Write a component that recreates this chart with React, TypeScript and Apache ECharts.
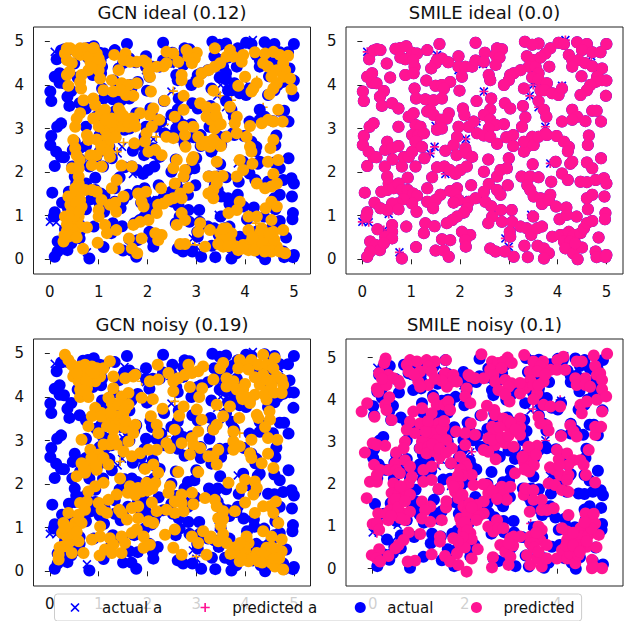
import React, { useEffect, useRef } from "react";
import * as echarts from "echarts";

const panelTitles = ["GCN ideal (0.12)", "SMILE ideal (0.0)", "GCN noisy (0.19)", "SMILE noisy (0.1)"];
const legendNames = ["actual a", "predicted a", "actual", "predicted"];
const ticksFull = [0, 1, 2, 3, 4, 5];
const ticksSparse = [0, 2, 4];

const actualAnchors = [[0.1,4.76],[1.53,4.69],[1.97,4.34],[2.47,4.48],[2.49,3.85],[3.44,4.56],[3.5,4.0],[3.43,3.75],[3.61,3.49],[4.09,3.98],[4.16,5.03],[4.69,4.66],[4.3,3.44],[3.75,3.04],[2.34,3.16],[1.5,3.06],[2.12,2.76],[1.48,2.58],[1.39,2.43],[3.85,2.2],[2.98,2.09],[0.93,1.87],[1.7,1.96],[0.83,1.38],[2.06,1.36],[2.64,1.22],[3.46,1.02],[4.19,1.02],[0.54,1.04],[0,0.86],[0.13,0.85],[0.44,0.67],[0.76,0.16],[2.92,0.18],[3.0,0.29],[2.93,0.48],[4.41,0],[4.76,0.18],[4.19,0.48]];

const gcnIdealAnchors = [[4.24,4.11],[4.37,3.49],[3.49,3.75],[3.72,3.65],[3.62,4.04],[2.53,3.86],[1.51,2.68],[1.38,2.47],[2.18,2.81],[0.93,1.87],[2.97,0.33],[4.22,0.83],[1.96,4.34],[3.85,2.9],[2.35,3.1]];
const gcnNoisyAnchors = [[1.88,4.36],[2.56,3.9],[4.24,3.59],[3.89,3.17],[2.39,3.1],[2.22,2.78],[1.44,2.52],[3.0,0.34]];
const smileNoisyAnchors = [[2.48,3.86],[3.48,3.78],[4.07,4.0],[4.29,3.44],[3.75,3.03],[2.15,2.77],[1.43,2.5],[0.96,1.88],[0.85,1.37],[3.43,1.07],[0.09,0.84],[0.75,0.19],[3.0,0.28],[4.42,-0.02],[4.76,0.21]];

const actualPoints = [[0.14,4.59],[0.23,4.79],[0.3,4.82],[0.37,4.8],[0.5,4.49],[0.68,4.83],[0.78,4.85],[0.9,4.89],[0.78,4.63],[0.88,4.59],[1.02,4.74],[1.12,4.72],[1.04,4.57],[1.07,4.42],[0.88,4.23],[1.05,4.27],[1.33,4.8],[1.58,4.94],[1.53,4.57],[1.63,4.61],[1.76,4.52],[1.5,4.5],[1.41,4.38],[1.97,4.66],[1.97,4.42],[2.11,4.42],[2.25,4.42],[2.32,4.56],[2.32,4.97],[2.51,4.74],[2.49,4.53],[2.76,4.84],[2.86,4.82],[2.73,4.69],[2.81,4.63],[2.73,4.46],[2.59,4.23],[2.62,4.11],[3.33,4.99],[3.61,4.95],[3.48,4.92],[3.37,4.66],[3.49,4.57],[3.41,4.42],[3.55,4.42],[3.24,4.34],[3.1,4.27],[3.03,4.23],[3.0,4.11],[2.9,4.0],[3.61,4.27],[3.48,4.17],[3.61,4.13],[3.85,4.84],[3.75,4.72],[3.65,4.63],[3.83,4.42],[4.02,4.97],[4.13,4.94],[4.23,4.69],[4.3,4.57],[4.4,4.98],[4.6,4.94],[4.5,4.8],[4.71,4.75],[4.88,4.75],[5.0,4.94],[4.43,4.57],[4.57,4.5],[4.3,4.42],[4.71,4.43],[4.49,4.2],[4.91,4.38],[4.81,4.19],[4.91,4.11],[5.0,4.1],[4.78,4.07],[4.67,4.0],[4.6,3.88],[4.47,3.77],[4.99,3.75],
[0.01,3.85],[0.03,3.63],[0.1,4.19],[0.2,4.27],[0.2,4.05],[0.29,4.04],[0.57,4.17],[0.44,3.86],[0.36,3.73],[0.4,3.52],[0.61,3.58],[0.74,3.46],[1.07,3.92],[1.1,3.69],[1.31,4.1],[1.29,3.67],[1.5,3.98],[1.63,4.0],[1.8,4.07],[1.67,3.92],[1.46,3.65],[1.63,3.69],[1.99,3.87],[2.04,4.19],[2.34,3.63],[2.64,3.69],[2.92,3.58],[3.03,3.46],[3.29,3.52],[2.62,3.44],[2.06,3.46],[2.09,3.31],[2.18,3.04],[2.28,3.16],[2.49,3.31],[2.62,3.2],[2.73,3.08],[2.9,3.1],[2.59,3.0],[3.34,3.26],[3.27,3.04],[3.31,3.92],
[3.61,3.63],[3.72,3.43],[3.77,3.27],[3.75,2.89],[3.65,3.88],[3.78,4.04],[3.73,3.88],[3.89,3.81],[4.02,3.77],[4.09,3.92],[4.09,3.16],[4.3,3.43],[4.4,3.27],[4.3,3.2],[4.57,3.17],[4.71,3.41],[4.8,3.41],[4.89,3.16],[4.64,2.84],[4.62,2.62],
[0.03,2.83],[0.01,2.62],[0.15,3.04],[0.23,3.12],[0.13,2.47],[0.23,2.35],[0.29,2.34],[0.1,2.14],[0.74,3.04],[0.51,2.7],[0.47,2.51],[0.61,2.55],[0.74,2.6],[0.62,2.29],[0.81,2.13],[0.85,2.35],[0.95,2.35],[1.02,2.47],[1.09,2.13],[0.46,2.13],[0.95,3.27],[1.05,3.35],[1.09,3.08],[1.19,3.04],[1.02,2.85],[1.15,2.85],[1.26,2.89],[1.09,2.7],[1.22,2.58],[1.27,2.32],[1.33,3.39],[1.39,3.43],[1.46,3.31],[1.61,3.2],[1.77,3.35],[1.73,3.23],[1.53,2.97],[1.63,3.0],
[1.7,2.49],[1.97,3.04],[1.94,2.81],[1.87,2.62],[1.93,2.39],[2.11,2.55],[2.14,2.43],[2.25,2.35],[1.53,2.11],[1.68,2.13],[1.79,2.05],[1.91,1.96],[2.01,2.05],[2.14,2.13],[1.43,1.88],[2.35,2.89],[2.49,2.84],[2.62,2.81],[2.76,2.65],[2.95,2.8],[3.09,2.85],[3.09,2.6],[2.58,2.29],[2.49,2.01],[2.76,1.9],[2.83,2.05],[3.0,2.32],[2.96,2.09],[2.98,1.7],[2.59,1.73],[2.49,1.55],[2.76,1.59],[2.83,1.48],[2.23,1.7],
[3.31,2.47],[3.37,2.58],[3.48,2.81],[3.31,2.7],[3.51,2.62],[3.61,2.81],[3.78,2.85],[3.98,2.83],[4.13,2.7],[4.23,2.58],[4.21,2.48],[3.49,2.18],[3.96,2.24],[4.09,1.97],[4.21,1.82],[4.26,2.19],[4.3,2.24],[3.87,1.78],[3.26,1.9],[3.44,1.9],[3.61,1.88],[4.6,2.22],[4.71,2.09],[4.89,2.32],[4.47,1.78],[4.6,1.77],[4.78,1.82],[4.95,1.86],[5.0,1.74],[3.38,1.7],[3.44,1.59],[3.51,1.44],[3.65,1.4],[3.68,1.27],[3.85,1.48],[3.82,1.36],[4.6,1.4],[4.71,1.48],[4.96,1.44],[4.62,1.15],[4.98,1.06],[4.97,0.92],[3.97,1.21],[4.18,1.19],[4.39,0.98],[4.04,0.92],[4.19,1.02],
[0.05,1.53],[0.25,1.3],[0.39,1.55],[0.51,1.9],[0.54,1.74],[0.51,1.59],[0.64,1.63],[0.74,1.74],[0.81,1.59],[0.93,1.59],[1.04,1.51],[1.12,1.46],[0.93,1.87],[1.33,1.63],[1.6,1.48],[1.33,1.32],[1.5,1.36],[1.45,1.17],[0.85,1.38],[1.02,1.28],[1.11,1.09],[0.72,1.28],[0.61,1.28],[0.51,1.13],[0.37,1.17],[0.74,1.15],[0.1,1.08],[0.08,0.98],[1.8,1.57],[1.94,1.63],[1.91,1.48],[1.97,1.36],[1.87,1.3],[2.18,1.32],[2.32,1.4],[2.14,1.17],[2.08,1.07],[1.94,0.98],[1.84,0.9],[1.73,0.83],[2.52,1.32],[2.64,1.22],[2.84,1.13],[3.06,1.13],[2.66,0.98],[2.58,0.83],[2.86,0.86],[3.07,0.86],[3.5,0.98],[1.29,0.83],[1.48,0.76],[0.9,0.75],[0.31,0.69],[0.61,0.79],[1.26,0.6],
[3.02,0.63],[3.24,0.75],[3.37,0.71],[3.46,0.56],[3.58,0.71],[3.68,0.75],[3.03,0.52],[3.89,0.52],[4.06,0.56],[4.23,0.63],[4.33,0.56],[4.47,0.6],[4.54,0.71],[4.6,0.83],[4.71,0.88],[4.84,0.5],[4.13,0.41],[4.26,0.41],[4.16,0.25],[4.32,0.14],[4.5,0.27],[4.36,0.37],[2.21,0.56],[2.04,0.63],[2.11,0.44],[2.12,0.29],[1.63,0.46],[1.8,0.44],[1.5,0.2],[1.67,0.2],[1.77,0.06],[1.1,0.28],[0.61,0.63],[0.47,0.52],[0.61,0.48],[0.16,0.41],[0.27,0.33],[0.36,0.21],[0.44,0.37],[0.16,0.18],[0.1,0.06],[0.81,0.02],[2.62,0.25],[2.73,0.18],[3.1,0.06],[2.92,0.18],[3.32,0.31],[3.39,0.05],[3.59,0.31],[3.72,0.25],[3.82,0.14],[3.72,0.02],[4.41,0],[4.78,0.18],[4.8,0.05],[4.98,0.05],[5.0,0.1]];

const gcnIdealPoints = [[0.35,4.84],[0.42,4.84],[0.31,4.72],[0.35,4.57],[0.45,4.5],[0.4,4.3],[0.35,4.23],[0.38,3.98],[0.62,4.84],[0.72,4.84],[0.83,4.8],[0.62,4.69],[0.72,4.69],[0.86,4.65],[0.96,4.72],[0.96,4.57],[1.03,4.5],[0.83,4.53],[1.0,4.34],[0.79,4.34],[0.65,4.23],[0.62,4.07],[0.64,3.92],[1.03,4.15],[1.27,4.11],[1.1,3.88],[1.32,4.69],[1.55,4.72],[1.51,4.57],[1.64,4.53],[1.78,4.53],[1.92,4.56],[1.98,4.51],[1.41,4.34],[1.47,4.04],[1.61,4.0],[1.78,4.04],[1.44,3.88],[1.3,3.85],[1.56,3.77],[1.71,3.75],[2.05,4.19],[2.02,4.3],[2.07,3.85],[2.19,4.42],[2.33,4.43],[2.39,4.5],[2.39,4.76],[2.53,4.72],[2.63,4.53],[2.35,3.64],[2.8,4.8],[3.01,4.74],[2.84,4.65],[2.97,4.61],[2.91,4.5],[2.7,4.23],[2.7,4.11],[2.74,3.75],[3.11,4.27],[3.04,4.07],[3.25,4.34],[3.38,4.42],[3.49,4.5],[3.38,4.84],[3.62,4.65],[3.69,4.8],[3.76,4.65],[3.96,4.69],[3.93,4.53],[3.35,3.87],[4.2,4.75],[4.41,4.72],[4.58,4.76],[4.71,4.69],[4.88,4.67],[4.37,4.5],[4.47,4.42],[4.78,4.5],[4.65,4.34],[4.82,4.34],[4.54,4.19],[4.78,4.19],[4.92,4.15],[4.65,4.04],[4.58,3.92],[4.5,3.79],[4.95,3.9],[4.0,4.19],[3.86,3.98],[4.17,3.92],[4.24,4.04],[4.13,3.85],
[0.69,3.65],[0.89,3.69],[0.93,3.54],[0.62,3.35],[0.55,3.23],[0.52,3.04],[0.48,2.74],[0.52,2.55],[0.55,2.39],[0.61,2.28],[0.45,2.09],[0.59,2.09],[0.89,3.23],[1.03,3.31],[1.13,3.43],[1.41,3.46],[1.44,3.39],[1.27,3.23],[1.48,3.2],[1.68,3.23],[1.85,3.35],[1.71,3.16],[1.61,3.04],[1.13,2.97],[1.34,2.97],[1.17,2.81],[0.76,2.85],[0.79,2.74],[0.96,2.75],[1.2,2.62],[1.13,2.51],[0.96,2.39],[0.83,2.39],[0.86,2.16],[1.06,2.13],[1.23,2.35],[1.47,2.15],[1.68,2.13],[1.73,2.66],[1.95,2.7],[1.98,2.89],[2.09,3.04],[2.12,3.46],[2.05,3.31],[2.24,3.2],[2.16,2.51],[2.02,2.47],[2.29,2.39],[2.39,2.81],[2.53,2.78],[2.56,3.27],[2.74,3.43],[2.74,3.04],[2.94,3.04],[2.77,2.85],[2.78,2.58],[2.94,2.35],[2.91,2.28],[2.6,2.28],[2.53,2.09],[2.77,2.05],[2.74,1.9],[2.56,1.74],[2.84,1.64],[2.67,1.51],[2.7,1.4],
[3.08,3.58],[3.21,3.49],[3.38,3.46],[3.21,3.27],[3.42,3.23],[3.38,3.0],[3.04,2.81],[3.11,2.62],[3.28,2.58],[3.42,2.66],[3.62,2.81],[3.83,2.89],[3.69,3.5],[3.83,3.27],[3.79,3.12],[4.1,3.06],[4.03,2.81],[4.1,2.58],[4.13,2.47],[3.42,2.24],[3.89,2.28],[4.15,2.19],[3.96,2.05],[3.83,1.9],[4.34,3.12],[4.47,3.2],[4.58,3.16],[4.77,3.16],[4.68,3.43],[4.58,2.74],[4.52,2.55],[4.47,2.24],[4.68,2.28],[4.58,1.96],[4.65,1.74],[4.24,1.74],[4.41,1.63],[4.54,1.67],[3.25,1.9],[3.38,1.9],[3.54,1.91],[3.42,1.74],[3.35,1.59],[3.25,1.51],[3.35,1.4],[3.89,1.32],[3.83,1.13],[3.66,1.06],[4.07,0.98],[4.24,0.98],[4.42,1.17],[4.54,1.32],[4.65,1.21],[4.54,0.9],
[0.59,1.9],[0.59,1.74],[0.52,1.63],[0.72,1.59],[0.86,1.59],[0.96,1.55],[0.38,1.44],[0.52,1.48],[0.62,1.36],[0.42,1.25],[0.65,1.21],[0.45,1.09],[0.31,0.98],[0.59,0.98],[0.48,0.83],[0.62,0.75],[0.76,0.73],[0.52,0.6],[0.38,0.52],[0.28,0.41],[0.68,0.24],[1.0,1.13],[1.0,0.98],[1.06,1.36],[1.27,1.63],[1.37,1.82],[1.51,1.44],[1.34,1.3],[1.23,1.25],[1.36,1.09],[1.13,0.79],[1.17,0.6],[1.36,0.67],[0.98,0.38],[1.41,0.25],[1.62,0.48],[1.68,0.25],[1.79,0.14],[1.88,0.48],[1.81,1.51],[1.97,1.55],[1.88,1.32],[1.92,1.21],[2.28,1.63],[2.22,1.25],[2.33,1.28],[2.43,1.36],[2.53,1.4],[2.19,1.06],[1.71,0.79],[1.85,0.86],[2.02,0.9],[2.16,0.6],[2.29,0.56],[2.22,0.44],[2.7,1.06],[2.77,0.9],[2.6,0.79],[2.67,0.35],[2.77,0.35],[3.08,0.83],[3.04,0.63],[3.28,0.67],[3.18,0.29],[3.49,0.6],[3.62,0.71],[3.55,0.29],[3.69,0.44],[3.72,0.6],[3.52,0.44],[4.07,0.67],[4.34,0.71],[4.78,0.67],[4.58,0.63],[4.44,0.52],[4.27,0.44],[4.1,0.37],[3.96,0.33],[3.86,0.21],[4.07,0.21],[4.24,0.29],[4.41,0.29],[4.65,0.29],[4.51,0.41],[4.54,0.18],[4.71,0.18],[4.82,0.14],
[3.6,0.5],[3.45,0.35],[3.8,0.3],[3.95,0.25],[4.2,0.2],[4.35,0.4],[4.4,0.18],[4.6,0.45],[4.3,0.6],[4.5,0.6],[4.15,0.5],[3.55,0.7],[3.65,0.3],[0.7,4.75],[0.8,4.65],[0.9,4.85],[0.95,4.45],[0.85,4.4],[1.0,4.6],[0.55,4.75],[0.45,0.7],[0.55,0.5],[0.35,0.65],[0.3,0.55],[0.4,0.9],[0.5,1.0],[0.45,1.4],[0.55,1.3],[0.6,1.1],[0.35,0.8],[1.3,3.1],[1.5,3.05],[1.6,3.15],[1.75,3.05],[1.25,3.15],[1.0,3.05],[1.15,3.2],[1.5,3.3],[1.35,2.8],[1.05,2.6],[1.2,2.45],[3.2,2.7],[3.35,2.75],[3.5,2.6],[3.3,3.2],[3.4,3.3],[3.5,3.1]];

const gcnNoisyPoints = [[0.31,4.97],[0.38,4.85],[0.45,4.74],[0.52,4.59],[0.48,4.47],[0.62,4.7],[0.72,4.74],[0.86,4.7],[0.96,4.66],[1.1,4.66],[1.23,4.82],[0.62,4.51],[0.76,4.55],[0.93,4.51],[1.03,4.47],[0.59,4.36],[0.79,4.36],[0.93,4.36],[0.62,4.17],[0.76,4.2],[0.62,4.0],[0.79,4.0],[1.3,4.47],[1.3,4.2],[1.54,4.43],[1.71,4.47],[1.75,4.51],[2.05,4.36],[2.22,4.4],[2.21,4.74],[2.43,4.55],[2.53,4.36],[2.53,4.13],[2.63,4.43],[2.77,4.51],[2.84,4.74],[2.91,4.55],[3.04,4.59],[3.14,4.7],[2.87,4.23],[3.12,4.2],[3.06,4.0],[3.35,4.4],[3.55,4.78],[3.49,4.66],[3.62,4.43],[3.62,4.24],[3.89,4.85],[4.0,4.74],[4.13,4.85],[3.86,4.66],[4.07,4.63],[4.37,4.97],[4.27,4.74],[4.44,4.74],[4.61,4.89],[4.58,4.66],[4.37,4.51],[4.65,4.47],[4.78,4.28],[4.3,4.28],[4.54,4.28],[4.75,4.09],[4.47,4.13],[4.44,3.94],[3.76,4.36],[3.83,4.17],[3.96,4.17],[3.93,4.01],[4.07,3.98],[4.2,4.05],[4.1,3.86],[4.24,3.59],[4.27,3.52],[4.5,3.67],[4.51,3.48],[4.41,3.31],
[3.42,3.82],[3.69,3.78],[3.55,3.56],[3.42,3.36],[3.35,3.25],[3.88,3.52],[3.76,3.21],[3.76,2.98],[3.76,2.79],[3.89,2.87],[4.13,3.02],[4.47,3.06],[4.66,3.02],[4.47,2.7],[4.58,2.37],[4.1,2.71],[4.13,2.6],[4.34,2.48],[1.2,3.98],[1.27,3.86],[1.47,4.01],[1.61,4.09],[1.41,3.82],[1.61,3.82],[1.88,3.98],[2.11,3.95],[1.54,3.71],[0.93,3.75],[0.86,3.56],[1.06,3.63],[1.2,3.48],[1.37,3.56],[1.47,3.48],[0.79,3.33],[1.0,3.17],[1.17,3.33],[1.34,3.33],[1.54,3.29],[1.75,3.36],[1.71,3.17],[1.61,2.98],[2.07,3.56],[2.19,3.36],[2.22,3.17],[2.31,3.73],[2.56,3.25],[2.65,3.57],[2.74,3.78],[3.01,3.71],[3.11,3.48],[3.04,3.21],[2.91,3.06],[2.7,2.94],[2.39,2.94],[2.46,2.83],[2.94,2.91],[3.08,2.83],[2.87,2.68],[3.25,2.64],[3.45,2.79],[3.35,2.64],[3.42,2.45],
[0.65,3.02],[1.1,2.91],[1.23,2.91],[0.83,2.79],[1.0,2.68],[1.37,2.91],[1.51,2.75],[1.68,2.64],[1.85,2.71],[2.02,2.79],[2.19,2.79],[0.65,2.48],[0.93,2.56],[1.1,2.6],[0.79,2.41],[0.96,2.33],[1.2,2.45],[0.55,2.18],[0.72,2.26],[1.44,2.13],[2.12,2.45],[1.95,2.35],[2.22,2.26],[2.63,2.28],[3.04,2.28],[0.79,1.83],[0.93,1.95],[1.1,2.03],[1.64,1.95],[1.81,1.91],[1.98,2.03],[2.16,2.03],[1.88,1.83],[2.46,1.95],[2.43,1.8],[2.91,1.8],[2.7,1.76],[3.66,2.03],[4.0,2.1],[4.2,2.06],[3.93,1.91],[4.24,1.91],[4.17,1.76],[3.38,1.64],[3.18,1.68],[4.0,1.58],[0.62,1.57],[0.76,1.6],[1.37,1.76],[1.2,1.64],[1.0,1.57],[1.06,1.41],[1.42,1.41],[1.68,1.45],[1.81,1.49],[2.09,1.58],[2.56,1.6],[2.7,1.57],[2.94,1.54],[2.74,1.38],[2.56,1.34],[3.42,1.49],[3.55,1.38],[3.45,1.22],[3.79,1.38],[4.2,1.34],[4.37,1.49],[4.51,1.49],[4.63,1.6],[4.58,1.34],[4.68,1.11],
[0.38,1.34],[0.59,1.3],[0.72,1.41],[0.28,1.11],[0.52,1.11],[0.65,1.11],[1.17,1.34],[0.25,0.88],[0.38,0.92],[0.59,0.69],[0.42,0.69],[0.28,0.57],[0.45,0.42],[0.69,0.42],[0.18,0.38],[0.18,0.27],[1.03,1.03],[0.86,0.73],[1.03,0.8],[1.23,0.76],[1.47,1.34],[1.58,1.19],[1.81,1.22],[2.02,1.15],[2.19,1.38],[2.39,1.41],[2.12,1.11],[1.78,0.96],[1.68,0.88],[1.92,0.8],[1.47,0.8],[1.54,0.65],[2.05,0.61],[1.92,0.54],[1.3,0.61],[1.13,0.5],[1.27,0.42],[1.47,0.42],[1.02,0.36],[2.36,0.84],[2.56,0.96],[2.53,0.54],[2.7,0.38],[2.91,0.8],[3.14,0.92],[3.04,0.65],[3.21,0.38],[3.28,0.76],[3.45,0.69],[3.62,0.65],[3.76,0.54],[3.86,0.42],[4.03,0.8],[4.07,0.65],[3.89,0.23],[4.07,0.23],[4.0,0.46],[4.37,0.92],[4.54,0.8],[4.75,0.73],[4.24,0.42],[4.44,0.54],[4.27,0.23],[4.44,0.34],[4.65,0.5],[4.54,0.19],[4.75,0.46],[4.61,0.11],[4.78,0.04],
[3.7,0.4],[3.95,0.3],[4.15,0.3],[4.35,0.2],[4.5,0.4],[4.6,0.3],[4.4,0.45],[4.7,0.3],[4.55,0.55],[0.35,0.8],[0.3,1.0],[0.45,1.0],[0.5,0.85],[0.35,0.6],[0.55,0.9],[0.2,0.55],[0.7,4.55],[0.85,4.6],[0.75,4.35],[0.55,4.55],[0.7,4.15],[0.9,4.55],[1.05,3.55],[1.3,3.25],[1.25,3.65],[1.5,3.6],[1.55,3.45],[1.3,3.05],[0.95,2.45],[0.85,2.6],[0.7,2.35],[1.6,1.8],[1.75,1.75],[2.0,1.85],[2.1,1.9],[3.55,1.2],[3.5,1.05],[3.3,0.8],[3.55,0.85],[4.0,0.55],[3.9,0.65],[4.4,4.05],[4.2,4.45],[4.6,4.1],[4.45,4.4],[4.75,4.4],[4.0,4.3],[3.95,3.95]];

const smileNoisyPoints = [[2.36,5.08],[5.09,5.09],[4.8,5.05],[3.29,5.06],[2.93,5.0],[0.28,4.98],[1.59,4.94],[0.25,4.87],[0.81,4.94],[0.96,4.91],[1.17,4.94],[1.35,4.91],[2.59,4.91],[2.72,4.87],[2.84,4.91],[3.02,4.87],[3.49,4.91],[3.7,4.91],[4.14,5.02],[4.01,4.94],[4.43,4.91],[4.54,4.91],[4.83,4.8],[0.14,4.63],[0.74,4.83],[0.78,4.67],[1.03,4.67],[1.21,4.79],[1.28,4.67],[2.55,4.71],[2.62,4.59],[2.8,4.75],[3.64,4.79],[3.41,4.67],[3.57,4.67],[3.86,4.71],[4.0,4.71],[4.18,4.71],[4.87,4.59],[0.34,4.59],[0.45,4.51],[0.56,4.45],[0.59,4.38],[0.99,4.43],[1.21,4.35],[1.03,4.31],[1.57,4.63],[1.75,4.59],[1.72,4.43],[1.61,4.31],[1.83,4.43],[2.08,4.59],[2.22,4.51],[2.41,4.51],[2.12,4.55],[2.66,4.43],[2.88,4.47],[3.02,4.39],[2.95,4.31],[3.42,4.47],[3.31,4.27],[3.2,4.15],[3.49,4.35],[3.57,4.15],[3.71,4.43],[4.4,4.51],[4.43,4.35],[4.62,4.51],[4.62,4.35],[4.72,4.31],[4.94,4.63],[4.98,4.47],[4.98,4.25],[0.09,4.27],[0.12,4.19],[0.36,4.06],[0.27,3.88],[0.3,3.76],[-0.12,3.92],[-0.24,3.72],[0.04,3.6],[0.41,3.52],
[2.04,4.27],[2.01,4.08],[2.12,3.92],[2.97,3.96],[2.73,4.23],[2.88,4.12],[1.32,4.04],[1.39,3.88],[1.55,3.88],[1.64,3.96],[1.68,3.76],[1.07,3.8],[0.88,3.72],[1.28,3.68],[2.37,3.64],[2.48,3.86],[2.64,3.76],[2.66,3.64],[3.49,4.01],[3.71,3.88],[3.86,3.84],[4.07,3.84],[4.51,3.88],[4.65,3.96],[4.87,4.0],[5.07,4.08],[4.98,3.72],[4.54,3.68],[3.6,3.6],[3.64,3.44],[3.78,3.4],[3.82,3.27],[4.09,3.14],[4.29,3.4],[4.36,3.25],[4.43,3.13],[4.83,3.17],[4.83,3.36],[4.96,3.36],[0.81,3.48],[0.74,3.29],[0.92,3.21],[1.03,3.44],[1.28,3.36],[1.43,3.44],[1.54,3.36],[1.36,3.25],[1.49,3.17],[1.21,3.09],[1.07,3.01],[1.03,2.85],[1.21,2.89],[1.17,2.73],[1.39,2.97],[1.36,2.77],[1.72,2.85],[1.46,2.65],[1.81,3.25],[2.01,3.21],[2.01,2.93],[2.13,3.44],[2.22,3.17],[2.59,3.36],[2.62,3.21],[2.84,3.56],[2.88,3.4],[3.2,3.56],[3.2,3.35],[3.02,3.25],[3.2,3.17],[2.66,2.93],[2.51,3.09],[2.88,2.97],[3.06,2.89],[2.41,2.81],[2.51,2.77],[2.67,2.59],
[0,2.97],[0.09,2.93],[0.27,2.91],[-0.17,2.75],[0.51,2.75],[0.7,3.01],[0.67,2.85],[0.03,2.46],[0.16,2.34],[0.34,2.34],[0.49,2.5],[0.52,2.34],[0.59,2.26],[0.7,2.57],[0.81,2.42],[1.1,2.34],[-0.06,2.06],[0.09,2.06],[0.09,2.22],[0.45,2.02],[0.78,2.02],[0.85,2.18],[1.1,2.06],[1.28,2.42],[1.28,2.1],[1.7,2.5],[1.9,2.65],[2.01,2.5],[2.04,2.42],[2.15,2.22],[2.19,1.98],[3.35,2.69],[3.28,2.54],[3.42,2.54],[3.46,2.85],[3.57,2.91],[3.38,2.89],[4.0,2.81],[4.04,2.59],[4.22,2.73],[4.36,2.57],[4.25,2.46],[3.96,2.34],[4.07,2.22],[4.25,2.22],[3.82,2.02],[3.96,1.98],[4.11,1.86],[4.25,1.82],[4.22,2.1],[4.51,2.57],[4.58,2.46],[4.69,2.81],[4.63,2.22],[4.83,2.04],[3.09,2.26],[1.72,2.06],[1.86,1.98],[1.43,1.89],[1.79,1.82],[1.86,1.67],[1.97,1.47],[2.48,1.98],[2.51,1.79],[2.41,1.59],[2.73,1.82],[2.8,1.94],[2.84,1.75],[2.91,1.63],[2.99,1.94],[3.28,1.75],[3.31,1.9],[3.49,1.86],[3.49,1.63],[3.67,1.63],[3.41,1.35],[3.67,1.39],[3.78,1.39],[3.93,1.43],
[-0.13,1.67],[0.41,1.79],[0.56,1.75],[0.7,1.79],[0.81,1.75],[0.45,1.59],[0.59,1.63],[1.07,1.59],[1.25,1.47],[1.14,1.39],[1.59,1.45],[0.38,1.39],[0.56,1.31],[0.12,1.31],[0.67,1.31],[0.81,1.35],[0.34,1.15],[0.7,1.15],[1.07,1.19],[1.25,1.11],[1.5,1.15],[2.08,1.39],[2.19,1.31],[2.26,1.51],[2.41,1.31],[1.9,1.19],[1.93,1.07],[2.04,1.0],[2.7,1.15],[2.51,1.0],[2.62,0.88],[2.73,0.96],[2.84,0.96],[0,1.06],[0.1,1.07],[0.14,0.92],[0.78,0.86],[1.03,0.82],[4.25,1.27],[4.62,1.31],[4.76,1.19],[4.83,1.07],[4.51,0.96],[4.22,0.88],[4.11,0.96],[3.6,1.0],[3.67,0.92],[3.42,0.76],[3.64,0.68],[3.42,0.6],[3.49,0.6],[2.99,0.72],[3.2,0.76],[3.06,0.76],[2.77,0.56],[2.88,0.4],[2.99,0.28],[1.75,0.72],[1.97,0.88],[2.04,0.68],[1.9,0.56],[2.12,0.84],[1.83,0.36],[2.28,0.46],[2.15,0.24],[1.46,0.76],[1.46,0.64],[1.28,0.34],[0.67,0.68],[0.56,0.56],[0.49,0.48],[0.34,0.3],[0.14,0.46],[-0.02,0.32],[0.09,0.24],[0.16,0.17],[0.92,0.19],[0.76,0.17],[1.57,0.3],[1.68,0.17],[1.86,0.09],[2.04,-0.07],[2.61,0.27],[2.59,0.03],[2.95,0.09],[3.35,0.32],[3.42,0.09],[3.57,0.24],[3.67,0.05],[3.78,0.24],[3.78,0.56],[4.0,0.24],[4.11,0.44],[4.22,0.24],[4.29,0.36],[4.4,0.13],[4.47,0.32],[4.22,0.68],[4.4,0.68],[4.54,0.76],[4.69,0.8],[4.91,0.8],[4.51,0.56],[4.65,0.52],[4.86,0.51],[4.76,0.21],[4.8,0.05],[4.98,0.01],[4.76,0.01],
[1.3,3.2],[1.4,3.05],[1.5,3.3],[1.6,3.05],[1.15,3.25],[1.3,2.95],[1.45,2.85],[1.6,2.75],[1.55,3.5],[1.2,3.5],[1.9,2.35],[1.95,2.2],[1.85,2.2],[1.75,1.95],[1.95,1.75],[2.1,1.55],[2.05,1.3],[2.3,1.25],[2.25,1.15],[2.15,1.45],[2.0,1.1],[2.05,0.9],[2.15,0.7],[2.0,0.5],[3.4,2.3],[3.5,2.45],[3.3,2.35],[3.55,2.7],[3.25,2.65],[0.5,1.65],[0.55,1.45],[0.7,1.6],[0.6,1.95],[0.3,1.3],[4.2,0.55],[4.35,0.55],[4.5,0.4],[4.65,0.65],[4.35,0.85],[4.75,0.95],[4.8,1.3],[4.6,1.1],[2.95,3.5],[3.0,3.45],[2.75,3.35],[2.6,3.05],[2.8,3.1],[2.95,3.15],[3.1,3.3],[3.85,2.4],[4.05,2.45],[3.6,4.35],[3.75,4.6],[3.2,4.4],[1.5,4.45],[1.35,4.5],[0.9,4.6],[0.6,1.2],[0.4,1.25],[3.55,0.85],[3.5,0.5],[3.6,0.4],[3.05,0.55],[2.95,0.6],[0.3,4.35],[0.2,4.5],[1.95,0.75],[1.85,0.65],[1.6,1.6],[2.4,2.0],[2.6,1.85],[2.7,1.65]];

const BLUE = "#0000ff";
const ORANGE = "#ffa500";
const PINK = "#ff1493";
const FONT = "DejaVu Sans";
const CROSS = "path://M2.5 0L10 7.5L17.5 0L20 2.5L12.5 10L20 17.5L17.5 20L10 12.5L2.5 20L0 17.5L7.5 10L0 2.5Z";
const PLUS = "path://M8.2 0H11.8V8.2H20V11.8H11.8V20H8.2V11.8H0V8.2H8.2Z";
const PAD = "M-2 -2h0.01v0.01zM22 22h0.01v0.01z";

const panels = [
  { left: 33.5, top: 27, xMin: -0.335, xMax: 5.34, yMin: -0.337, yMax: 5.33, ticksX: ticksFull, color: ORANGE, predA: gcnIdealAnchors, pred: gcnIdealPoints },
  { left: 346, top: 27, xMin: -0.335, xMax: 5.34, yMin: -0.337, yMax: 5.33, ticksX: ticksFull, color: PINK, predA: actualAnchors, pred: actualPoints },
  { left: 33.5, top: 339, xMin: -0.335, xMax: 5.34, yMin: -0.337, yMax: 5.33, ticksX: ticksFull, color: ORANGE, predA: gcnNoisyAnchors, pred: gcnNoisyPoints },
  { left: 346, top: 339, xMin: -0.58, xMax: 5.435, yMin: -0.41, yMax: 5.44, ticksX: ticksSparse, color: PINK, predA: smileNoisyAnchors, pred: smileNoisyPoints },
];
const W = 277;
const H = 247;

export default function App() {
  const ref = useRef<HTMLDivElement>(null);
  useEffect(() => {
    const chart = echarts.init(ref.current!, undefined, { renderer: "svg" });
    const axisCommon = (min: number, max: number, ticks: number[], i: number, margin: number) => ({
      type: "value",
      gridIndex: i,
      min,
      max,
      splitLine: { show: false },
      axisLine: { show: false },
      axisTick: { show: true, length: 5, customValues: ticks, lineStyle: { color: "#222", width: 1 } },
      axisLabel: { customValues: ticks, color: "#111", fontFamily: FONT, fontSize: 15, margin },
    });
    const series: any[] = [];
    panels.forEach((p, i) => {
      const base = { type: "scatter", xAxisIndex: i, yAxisIndex: i, silent: true };
      series.push({ ...base, name: legendNames[0], symbol: CROSS, symbolSize: 9, itemStyle: { color: BLUE, opacity: 1 }, data: actualAnchors });
      series.push({ ...base, name: legendNames[1], symbol: PLUS, symbolSize: 9, itemStyle: { color: p.color, opacity: 1 }, data: p.predA });
      series.push({ ...base, name: legendNames[2], symbol: "circle", symbolSize: 12, itemStyle: { color: BLUE, opacity: 1 }, data: actualPoints });
      series.push({ ...base, name: legendNames[3], symbol: "circle", symbolSize: 12, itemStyle: { color: p.color, opacity: 1 }, data: p.pred });
    });
    chart.setOption({
      animation: false,
      backgroundColor: "#fff",
      title: panels.map((p, i) => ({
        text: panelTitles[i],
        left: p.left + W / 2,
        top: p.top - 24,
        padding: 0,
        textAlign: "center",
        textStyle: { fontFamily: FONT, fontWeight: "normal", fontSize: 18, color: "#111" },
      })),
      grid: panels.map((p) => ({
        left: p.left, top: p.top, width: W, height: H, show: true,
        borderColor: "#222", borderWidth: 1, backgroundColor: "transparent",
      })),
      xAxis: panels.map((p, i) => axisCommon(p.xMin, p.xMax, p.ticksX, i, 10)),
      yAxis: panels.map((p, i) => axisCommon(p.yMin, p.yMax, ticksFull, i, 9.5)),
      legend: {
        left: 54.5,
        top: 594,
        orient: "horizontal",
        selectedMode: false,
        itemWidth: 28,
        itemHeight: 11,
        itemGap: 37.5,
        padding: [6, 7, 6, 15],
        backgroundColor: "rgba(255,255,255,0.8)",
        borderColor: "#ccc",
        borderWidth: 1,
        borderRadius: 3,
        textStyle: { fontFamily: FONT, fontSize: 15, color: "#111", padding: [0, 0, 0, 8] },
        data: [
          { name: legendNames[0], icon: CROSS + PAD, itemStyle: { color: BLUE } },
          { name: legendNames[1], icon: PLUS + PAD, itemStyle: { color: PINK } },
          { name: legendNames[2], icon: "circle", itemStyle: { color: BLUE } },
          { name: legendNames[3], icon: "circle", itemStyle: { color: PINK } },
        ],
      },
      series,
    });
    return () => chart.dispose();
  }, []);
  return <div ref={ref} style={{ position: "absolute", left: 0, top: 0, width: 634, height: 621 }} />;
}
